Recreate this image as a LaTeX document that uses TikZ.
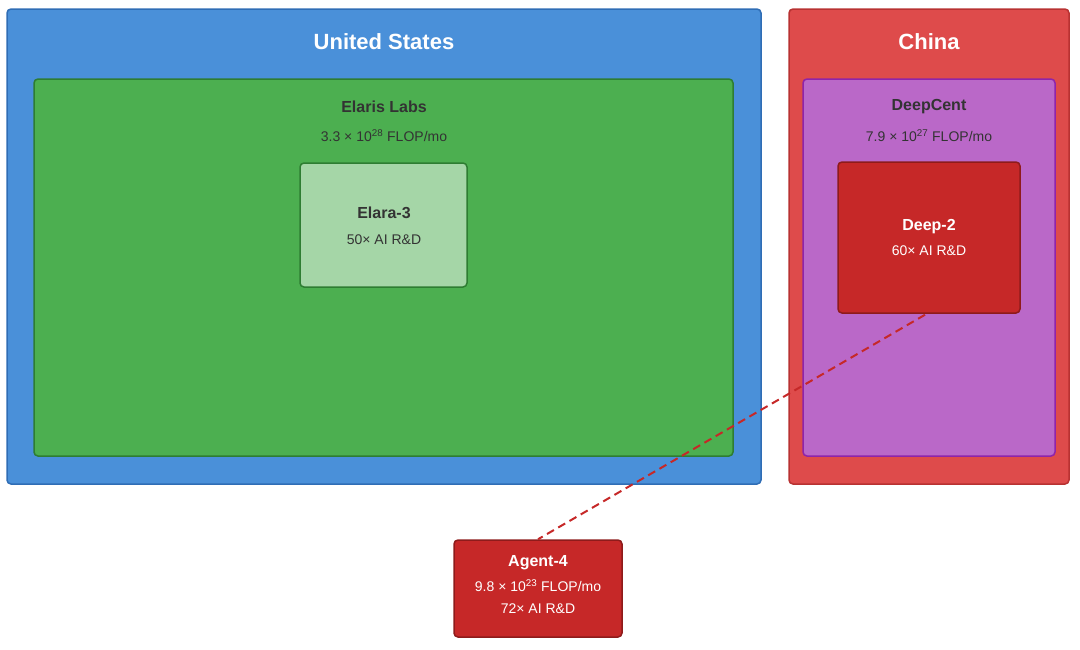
\documentclass[tikz,border=0pt]{standalone}
\usepackage{fontspec}
\setmainfont{Liberation Sans}
\usetikzlibrary{positioning}
\definecolor{usblue}{HTML}{4A90D9}
\definecolor{usline}{HTML}{2F6DB5}
\definecolor{cnred}{HTML}{DE4B4B}
\definecolor{cnline}{HTML}{B83232}
\definecolor{labgreen}{HTML}{4CAF50}
\definecolor{labline}{HTML}{2E7D32}
\definecolor{modgreen}{HTML}{A5D6A7}
\definecolor{dcpurple}{HTML}{BA68C8}
\definecolor{dcline}{HTML}{8E24AA}
\definecolor{agred}{HTML}{C62828}
\definecolor{agline}{HTML}{8E1B1B}
\definecolor{txtdark}{HTML}{333333}
\begin{document}
\begin{tikzpicture}[x=1pt, y=-1pt]

  \tikzset{box/.style={rounded corners=4pt, line width=1.5pt}}
  \tikzset{title/.style={font=\fontsize{22}{26}\selectfont\bfseries, text=white}}
  \tikzset{head/.style={font=\fontsize{16}{19}\selectfont\bfseries}}
  \tikzset{info/.style={font=\fontsize{14}{17}\selectfont}}

  \useasboundingbox (0,0) rectangle (1080,649);

  % countries
  \draw [box, fill=usblue, draw=usline] (7,9) rectangle (761,484);
  \draw [box, fill=cnred, draw=cnline] (789,9) rectangle (1069,484);
  \node [title] (us) at (384,42) {United States};
  \node [title] (cn) at (929,42) {China};

  % labs
  \draw [box, fill=labgreen, draw=labline] (34,79) rectangle (733,456);
  \node [head, text=txtdark] (elaris) at (384,107) {Elaris Labs};
  \node [info, text=txtdark] (elarisc) at (384,136) {3.3 × 10\textsuperscript{28} FLOP/mo};

  \draw [box, fill=dcpurple, draw=dcline] (803,79) rectangle (1055,456);
  \node [head, text=txtdark] (deepcent) at (929,107) {DeepCent};
  \node [info, text=txtdark] (deepcentc) at (929,136) {7.9 × 10\textsuperscript{27} FLOP/mo};

  % models
  \draw [box, fill=modgreen, draw=labline] (300,163) rectangle (467,287);
  \node [head, text=txtdark] (elara) at (384,213) {Elara-3};
  \node [info, text=txtdark] (elarar) at (384,240) {50× AI R\&D};

  \node [box, fill=agred, draw=agline, minimum width=182pt, minimum height=151pt] (deep2) at (929,237.5) {};
  \node [head, text=white] (deep2n) at (929,227) {Deep-2};
  \node [info, text=white] (deep2r) at (929,251) {60× AI R\&D};

  \node [box, fill=agred, draw=agline, minimum width=168pt, minimum height=97pt] (agent) at (538,588.5) {};
  \node [head, text=white] (agentn) at (538,563) {Agent-4};
  \node [info, text=white] (agentc) at (538,586) {9.8 × 10\textsuperscript{23} FLOP/mo};
  \node [info, text=white] (agentr) at (538,609) {72× AI R\&D};

  \draw [dashed, dash pattern=on 8pt off 5pt, line width=2pt, draw=agred] (deep2.south) ++(-4,1) -- (agent.north);
\end{tikzpicture}
\end{document}
